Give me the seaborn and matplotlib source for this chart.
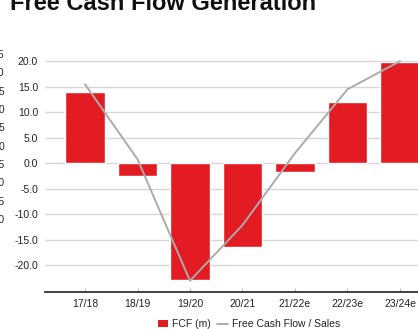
import numpy as np
import pandas as pd
import matplotlib
matplotlib.use("Agg")
import matplotlib.pyplot as plt
import seaborn as sns
from matplotlib.patches import Patch
from matplotlib.lines import Line2D

# data
periods = ["17/18", "18/19", "19/20", "20/21", "21/22e", "22/23e", "23/24e"]
fcf_m = [14.0, -2.5, -22.9, -16.3, -1.6, 12.0, 19.9]
fcf_sales = [15.5, 0.8, -23.0, -12.1, 2.0, 14.5, 20.0]
y_ticks = [-20, -15, -10, -5, 0, 5, 10, 15, 20]
# labels of a neighbouring axis, cut off by the crop on the left
side_labels = ["25", "20", "15", "10", "5", "0", "-5", "-10", "-15", "-20"]

bar_red = "#E31B23"
line_grey = "#ABABAB"
text_col = "#222222"

sns.set_theme(style="white")
plt.rcParams["font.family"] = ["Liberation Sans", "DejaVu Sans"]

df = pd.DataFrame({"period": periods, "fcf": fcf_m, "ratio": fcf_sales})

W, H = 418, 329
fig = plt.figure(figsize=(W / 100, H / 100), dpi=100)
ax = fig.add_axes([45 / W, 37 / H, (W - 45) / W, (292 - 51) / H])

sns.barplot(data=df, x="period", y="fcf", color=bar_red, saturation=1,
            width=0.76, ax=ax, zorder=2)
sns.pointplot(data=df, x="period", y="ratio", color=line_grey, marker="",
              linestyle="-", linewidth=1.4, errorbar=None, ax=ax, zorder=3)

ax.set_xlim(-0.762, 6.343)
ax.set_ylim(-25.2, 22)
ax.set_yticks(y_ticks)
ax.set_yticklabels([f"{v:.1f}" for v in y_ticks])
ax.yaxis.grid(True, color="#D6D6D6", lw=1.0, zorder=0)
ax.set_axisbelow(True)
ax.set_xlabel("")
ax.set_ylabel("")

for s in ["top", "right", "left"]:
    ax.spines[s].set_visible(False)
ax.spines["bottom"].set_color("#333333")
ax.spines["bottom"].set_linewidth(1.3)

ax.tick_params(axis="y", length=0, pad=5, labelsize=7.5, labelcolor=text_col)
ax.tick_params(axis="x", length=3, width=0.8, color="#bbbbbb", direction="in",
               pad=5, labelsize=7.5, labelcolor=text_col, bottom=True)

# title, mostly cropped away at the top
fig.text(10 / W, 1 - 10 / H, "Free Cash Flow Generation", fontsize=17,
         fontweight="bold", color="#111111", ha="left", va="baseline")

# partial labels at the left edge
for i, lab in enumerate(side_labels):
    fig.text(4.5 / W, 1 - (55 + i * 18.33) / H, lab, fontsize=7.5,
             color=text_col, ha="right", va="center")

handles = [Patch(facecolor=bar_red, edgecolor="none"),
           Line2D([0], [0], color=line_grey, lw=1.4)]
fig.legend(handles, ["FCF (m)", "Free Cash Flow / Sales"], loc="center",
           bbox_to_anchor=(249 / W, 1 - 324 / H), ncol=2, frameon=False,
           fontsize=7.5, handlelength=1.0, handleheight=0.6, handletextpad=0.4,
           columnspacing=0.6, labelcolor=text_col)

fig.savefig("out.png", dpi=100)
